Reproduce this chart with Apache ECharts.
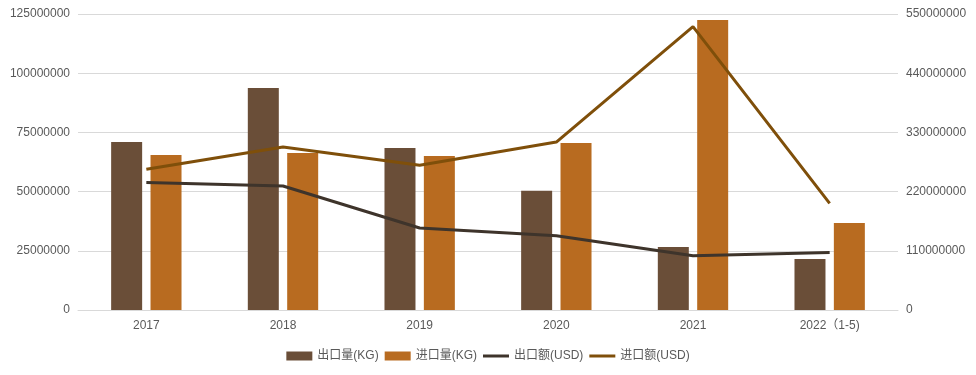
<!DOCTYPE html>
<html><head><meta charset="utf-8">
<script src="https://cdn.jsdelivr.net/npm/echarts@6/dist/echarts.min.js"></script>
<style>html,body{margin:0;padding:0;background:#fff}#c{width:976px;height:375px}</style>
</head><body><div id="c"></div>
<script>
const categories = ['2017','2018','2019','2020','2021','2022（1-5)'];
const exportQty = [70900000, 93700000, 68400000, 50400000, 26600000, 21500000];
const importQty = [65500000, 66300000, 65000000, 70500000, 122500000, 36700000];
const exportUsd = [237000000, 230500000, 152400000, 138000000, 101000000, 107000000];
const importUsd = [261500000, 303000000, 269000000, 312000000, 526500000, 198000000];
const leftTicks = {min:0, max:125000000, interval:25000000};
const rightTicks = {min:0, max:550000000, interval:110000000};

const chart = echarts.init(document.getElementById('c'));
const font = 'Arial, "Liberation Sans", "Noto Sans CJK SC", sans-serif';
const lineIcon = 'path://M0,0 M26,9 M0,3 L26,3 L26,6 L0,6 Z';
chart.setOption({
  animation:false,
  textStyle:{fontFamily:font},
  grid:{left:78, right:78, top:14, bottom:65, containLabel:false},
  legend:{
    bottom:8, left:'center', itemWidth:26, itemHeight:9, itemGap:6,
    textStyle:{color:'#595959', fontSize:12, fontFamily:font},
    data:[
      {name:'出口量(KG)', icon:'rect'},
      {name:'进口量(KG)', icon:'rect'},
      {name:'出口额(USD)', icon:lineIcon},
      {name:'进口额(USD)', icon:lineIcon}
    ]
  },
  xAxis:{
    type:'category', data:categories,
    axisLine:{lineStyle:{color:'#d9d9d9'}},
    axisTick:{show:false},
    axisLabel:{color:'#595959', fontSize:12, margin:10}
  },
  yAxis:[
    {type:'value', min:leftTicks.min, max:leftTicks.max, interval:leftTicks.interval,
     axisLine:{show:false}, axisTick:{show:false},
     axisLabel:{color:'#595959', fontSize:12, margin:8, formatter:function(v){return String(v);}},
     splitLine:{lineStyle:{color:'#d9d9d9'}}},
    {type:'value', min:rightTicks.min, max:rightTicks.max, interval:rightTicks.interval,
     axisLine:{show:false}, axisTick:{show:false},
     axisLabel:{color:'#595959', fontSize:12, margin:8, formatter:function(v){return String(v);}},
     splitLine:{show:false}}
  ],
  series:[
    {name:'出口量(KG)', type:'bar', data:exportQty, barWidth:31, barGap:'27%',
     itemStyle:{color:'#6A4E38'}},
    {name:'进口量(KG)', type:'bar', data:importQty, barWidth:31,
     itemStyle:{color:'#B86B20'}},
    {name:'出口额(USD)', type:'line', yAxisIndex:1, data:exportUsd, symbol:'none',
     lineStyle:{color:'#3E342B', width:3}, itemStyle:{color:'#3E342B'}},
    {name:'进口额(USD)', type:'line', yAxisIndex:1, data:importUsd, symbol:'none',
     lineStyle:{color:'#7F4F0A', width:3}, itemStyle:{color:'#7F4F0A'}}
  ]
});
</script></body></html>
